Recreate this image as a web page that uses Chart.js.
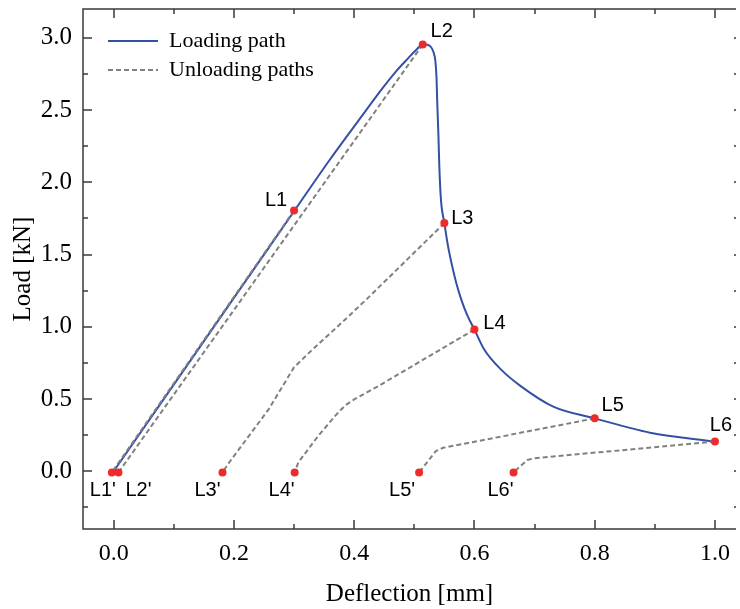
<!DOCTYPE html>
<html>
<head>
<meta charset="utf-8">
<script src="https://cdn.jsdelivr.net/npm/chart.js@4.4.0/dist/chart.umd.min.js"></script>
<style>
  html, body { margin: 0; padding: 0; background: #fff; }
  #wrap { width: 740px; height: 609px; }
</style>
</head>
<body>
<div id="wrap"><canvas id="myChart" width="740" height="609"></canvas></div>
<script>
// loading path: deflection [mm] / load [kN]
const loadX = [0, 0.10, 0.20, 0.30, 0.36, 0.42, 0.445, 0.470, 0.490, 0.505, 0.514, 0.522, 0.528, 0.532, 0.535, 0.537, 0.538, 0.540, 0.5416, 0.5443, 0.550, 0.556, 0.563, 0.570, 0.578, 0.588, 0.600, 0.616, 0.644, 0.677, 0.732, 0.800, 0.892, 1.000];
const loadY = [0, 0.60, 1.20, 1.80, 2.16, 2.50, 2.64, 2.77, 2.86, 2.925, 2.954, 2.952, 2.935, 2.90, 2.84, 2.72, 2.57, 2.34, 2.11, 1.88, 1.718, 1.56, 1.42, 1.30, 1.19, 1.08, 0.981, 0.845, 0.705, 0.589, 0.445, 0.366, 0.267, 0.205];

// unloading paths L1 -> L1' ... L6 -> L6'
const unload1X = [0.300, -0.003];
const unload1Y = [1.805, -0.008];
const unload2X = [0.514, 0.008];
const unload2Y = [2.954, -0.008];
const unload3X = [0.550, 0.423, 0.385, 0.330, 0.300, 0.258, 0.192, 0.181];
const unload3Y = [1.718, 1.20, 1.05, 0.84, 0.72, 0.43, 0.06, -0.008];
const unload4X = [0.600, 0.440, 0.400, 0.385, 0.372, 0.340, 0.307, 0.301];
const unload4Y = [0.981, 0.589, 0.497, 0.455, 0.40, 0.244, 0.06, -0.008];
const unload5X = [0.800, 0.548, 0.536, 0.508];
const unload5Y = [0.366, 0.162, 0.14, -0.008];
const unload6X = [1.000, 0.700, 0.688, 0.665];
const unload6Y = [0.205, 0.090, 0.078, -0.008];

// marked points
const pointNames = ['L1', 'L2', 'L3', 'L4', 'L5', 'L6', "L1'", "L2'", "L3'", "L4'", "L5'", "L6'"];
const pointX = [0.300, 0.514, 0.550, 0.600, 0.800, 1.000, -0.003, 0.008, 0.181, 0.301, 0.508, 0.665];
const pointY = [1.805, 2.954, 1.718, 0.981, 0.366, 0.205, -0.008, -0.008, -0.008, -0.008, -0.008, -0.008];

// ticks
const xTicks = [0, 0.2, 0.4, 0.6, 0.8, 1.0];
const xMinor = [0.1, 0.3, 0.5, 0.7, 0.9];
const yTicks = [0, 0.5, 1.0, 1.5, 2.0, 2.5, 3.0];
const yMinor = [-0.25, 0.25, 0.75, 1.25, 1.75, 2.25, 2.75];

const BLUE = '#3450a6';
const GRAY = '#808080';
const RED = '#ee2b2b';

const toPts = (xs, ys) => xs.map((v, i) => ({x: v, y: ys[i]}));

const unloadPaths = [
    [unload1X, unload1Y], [unload2X, unload2Y], [unload3X, unload3Y],
    [unload4X, unload4Y], [unload5X, unload5Y], [unload6X, unload6Y]
];

const serif = '"Liberation Serif", "Times New Roman", serif';

// box around the plot with inward tick marks (right side runs off the canvas)
const frameTicks = {
    id: 'frameTicks',
    afterDraw(chart) {
        const {ctx, chartArea: a, scales: {x, y}} = chart;
        ctx.save();
        ctx.strokeStyle = '#3a3a3a';
        ctx.lineWidth = 1.5;
        ctx.beginPath();
        const xMark = (vals, len) => vals.forEach(v => {
            const px = Math.round(x.getPixelForValue(v));
            ctx.moveTo(px, a.bottom); ctx.lineTo(px, a.bottom - len);
            ctx.moveTo(px, a.top); ctx.lineTo(px, a.top + len);
        });
        const yMark = (vals, len) => vals.forEach(v => {
            const py = Math.round(y.getPixelForValue(v));
            ctx.moveTo(a.left, py); ctx.lineTo(a.left + len, py);
            ctx.moveTo(a.right, py); ctx.lineTo(a.right - 2, py);
        });
        xMark(xTicks, 9); xMark(xMinor, 5);
        yMark(yTicks, 9); yMark(yMinor, 5);
        // left, top, bottom edges
        ctx.moveTo(a.right, a.top); ctx.lineTo(a.left, a.top);
        ctx.lineTo(a.left, a.bottom); ctx.lineTo(a.right, a.bottom);
        ctx.stroke();
        ctx.restore();
    }
};

// L1 .. L6' text next to the red dots
const pointLabels = {
    id: 'pointLabels',
    afterDatasetsDraw(chart, args, opts) {
        const {ctx, scales: {x, y}} = chart;
        ctx.save();
        ctx.font = '20px "Liberation Sans", Arial, sans-serif';
        ctx.fillStyle = '#000';
        ctx.textAlign = 'center';
        ctx.textBaseline = 'middle';
        pointNames.forEach((name, i) => {
            const [dx, dy] = opts.offsets[i];
            ctx.fillText(name, x.getPixelForValue(pointX[i]) + dx, y.getPixelForValue(pointY[i]) + dy);
        });
        ctx.restore();
    }
};

// move the legend into the upper-left corner of the plot
const legendSpot = {
    id: 'legendSpot',
    afterLayout(chart) {
        const lg = chart.legend, a = chart.chartArea;
        if (!lg) return;
        lg.left = a.left + 18;
        lg.top = a.top + 14;
        lg.right = lg.left + 260;
        lg.bottom = a.bottom;
        lg.width = 260;
        lg.height = lg.bottom - lg.top;
    }
};

const datasets = [
    {
        label: 'points',
        data: toPts(pointX, pointY),
        showLine: false,
        pointRadius: 4,
        pointBackgroundColor: RED,
        pointBorderWidth: 0,
        order: 0
    },
    ...unloadPaths.map(([xs, ys]) => ({
        label: 'Unloading paths',
        data: toPts(xs, ys),
        borderColor: GRAY,
        borderWidth: 2,
        borderDash: [5, 3],
        pointRadius: 0,
        tension: 0,
        order: 1
    })),
    {
        label: 'Loading path',
        data: toPts(loadX, loadY),
        borderColor: BLUE,
        borderWidth: 2,
        pointRadius: 0,
        cubicInterpolationMode: 'monotone',
        order: 2
    }
];

const ctx = document.getElementById('myChart').getContext('2d');
const myChart = new Chart(ctx, {
    type: 'line',
    data: { datasets: datasets },
    options: {
        responsive: false,
        animation: false,
        devicePixelRatio: 1,
        layout: { padding: { left: 0, top: 9, right: 0, bottom: 0 } },
        plugins: {
            tooltip: { enabled: false },
            legend: {
                position: 'chartArea',
                align: 'start',
                labels: {
                    usePointStyle: true,
                    pointStyleWidth: 50,
                    padding: 7,
                    color: '#000',
                    font: { family: serif, size: 22 },
                    generateLabels: () => [
                        { text: 'Loading path', strokeStyle: BLUE, fillStyle: BLUE, lineWidth: 2, lineDash: [], pointStyle: 'line', fontColor: '#000', datasetIndex: 7 },
                        { text: 'Unloading paths', strokeStyle: GRAY, fillStyle: GRAY, lineWidth: 2, lineDash: [5, 3], pointStyle: 'line', fontColor: '#000', datasetIndex: 1 }
                    ]
                }
            },
            pointLabels: {
                offsets: [[-18, -10], [19, -13], [18, -5], [20, -6], [18, -13], [6, -16],
                          [-9, 18], [20, 18], [-15, 18], [-13, 18], [-17, 18], [-13, 18]]
            }
        },
        scales: {
            x: {
                type: 'linear',
                min: -0.051,
                max: 1.035,
                afterFit: (scale) => {
                    scale.height = 80;
                    scale.paddingLeft = 0;
                    scale.paddingRight = 0;
                },
                afterBuildTicks: (scale) => { scale.ticks = xTicks.map(v => ({value: v})); },
                grid: { display: false, drawTicks: false },
                border: { display: false },
                ticks: {
                    padding: 10,
                    color: '#000',
                    font: { family: serif, size: 24 },
                    callback: (v) => v.toFixed(1)
                },
                title: {
                    display: true,
                    text: 'Deflection [mm]',
                    color: '#000',
                    font: { family: serif, size: 25 },
                    padding: { top: 0, bottom: 0 }
                }
            },
            y: {
                type: 'linear',
                min: -0.4,
                max: 3.2,
                afterFit: (scale) => {
                    scale.width = 83;
                    scale.paddingTop = 0;
                    scale.paddingBottom = 0;
                },
                afterBuildTicks: (scale) => { scale.ticks = yTicks.map(v => ({value: v})); },
                grid: { display: false, drawTicks: false },
                border: { display: false },
                ticks: {
                    padding: 11,
                    color: '#000',
                    font: { family: serif, size: 25 },
                    callback: (v) => v.toFixed(1)
                },
                title: {
                    display: true,
                    text: 'Load [kN]',
                    color: '#000',
                    font: { family: serif, size: 25 },
                    padding: { top: 8, bottom: 0 }
                }
            }
        }
    },
    plugins: [frameTicks, pointLabels, legendSpot]
});
</script>
</body>
</html>
